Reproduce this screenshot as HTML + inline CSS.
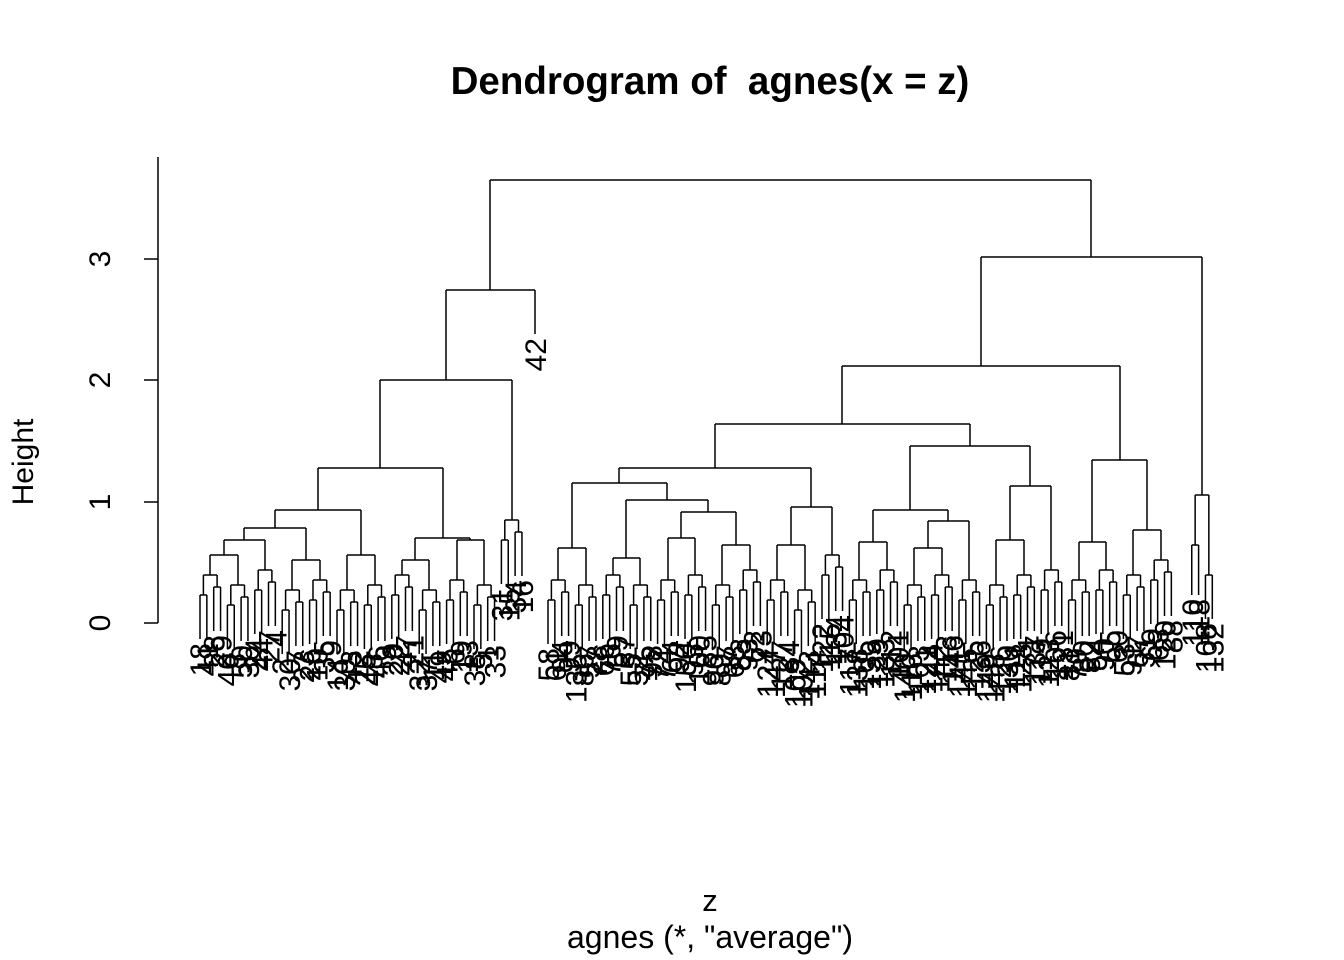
<!DOCTYPE html>
<html><head><meta charset="utf-8"><style>
html,body{margin:0;padding:0;background:#fff;}
svg{display:block;font-family:"Liberation Sans",sans-serif;}
path{stroke:#000;stroke-width:1.5;fill:none;}
.lb text{font-size:30px;text-anchor:end;transform:translateY(3px);}
</style></head><body>
<svg width="1344" height="960" xmlns="http://www.w3.org/2000/svg">
<text x="710" y="94" font-size="38.5" font-weight="bold" text-anchor="middle" xml:space="preserve" style="white-space:pre">Dendrogram of  agnes(x = z)</text>
<text x="710" y="911" font-size="31" text-anchor="middle">z</text>
<text x="710" y="948" font-size="32" text-anchor="middle">agnes (*, "average")</text>
<text transform="translate(33,462) rotate(-90)" font-size="30" text-anchor="middle">Height</text>
<path d="M158 157V623 M144 623H158 M144 502H158 M144 380H158 M144 259H158"/>
<g font-size="30" text-anchor="middle">
<text transform="translate(110,623) rotate(-90)">0</text>
<text transform="translate(110,502) rotate(-90)">1</text>
<text transform="translate(110,380) rotate(-90)">2</text>
<text transform="translate(110,259) rotate(-90)">3</text>
</g>
<path d="M210 555H238 M210 555V575 M238 555V585
M224 540H265 M224 540V555 M265 540V570
M292 560H320 M292 560V590 M320 560V580
M244 528H306 M244 528V540 M306 528V560
M347 555H375 M347 555V590 M375 555V585
M275 510H361 M275 510V528 M361 510V555
M402 560H429 M402 560V575 M429 560V590
M457 540H484 M457 540V580 M484 540V585
M415 538H470 M415 538V560 M470 538V540
M318 468H443 M318 468V510 M443 468V538
M380 380H512 M380 380V468 M512 380V520
M446 290H535 M446 290V380 M535 290V334
M558 548H586 M558 548V580 M586 548V585
M613 558H640 M613 558V575 M640 558V585
M668 538H695 M668 538V580 M695 538V575
M722 545H750 M722 545V585 M750 545V570
M681 512H736 M681 512V538 M736 512V545
M626 500H708 M626 500V558 M708 500V512
M572 483H667 M572 483V548 M667 483V500
M777 545H805 M777 545V580 M805 545V590
M791 507H832 M791 507V545 M832 507V555
M619 468H811 M619 468V483 M811 468V507
M859 542H887 M859 542V580 M887 542V570
M914 548H942 M914 548V585 M942 548V575
M928 521H969 M928 521V548 M969 521V580
M873 510H948 M873 510V542 M948 510V521
M996 540H1024 M996 540V585 M1024 540V575
M1010 486H1051 M1010 486V540 M1051 486V570
M910 446H1030 M910 446V510 M1030 446V486
M715 424H970 M715 424V468 M970 424V446
M1079 542H1106 M1079 542V580 M1106 542V570
M1133 530H1161 M1133 530V575 M1161 530V560
M1092 460H1147 M1092 460V542 M1147 460V530
M842 366H1120 M842 366V424 M1120 366V460
M981 257H1202 M981 257V366 M1202 257V495
M490 180H1091 M490 180V290 M1091 180V257"/>
<g class="lb" transform="translate(543,338) rotate(-90)"><text x="0" y="0">42</text></g>

<g transform="translate(200,575)"><path d="M3.4 0H17.1M3.4 0V20M0 20H6.85M0 20V64M6.85 20V64M17.1 0V12M13.7 12H20.55M13.7 12V56M20.55 12V56"/><g class="lb" transform="rotate(-90)"><text x="-68" y="8">18</text><text x="-68" y="14.9">41</text><text x="-60" y="21.7">28</text><text x="-60" y="28.6">29</text></g></g>
<g transform="translate(227.4,585)"><path d="M3.4 0H17.1M3.4 0V20M0 20H6.85M0 20V64M6.85 20V64M17.1 0V12M13.7 12H20.55M13.7 12V56M20.55 12V56"/><g class="lb" transform="rotate(-90)"><text x="-68" y="8">40</text><text x="-68" y="14.9">8</text><text x="-60" y="21.7">50</text><text x="-60" y="28.6">36</text></g></g>
<g transform="translate(254.8,570)"><path d="M3.4 0H17.1M3.4 0V20M0 20H6.85M0 20V64M6.85 20V64M17.1 0V12M13.7 12H20.55M13.7 12V56M20.55 12V56"/><g class="lb" transform="rotate(-90)"><text x="-68" y="8">24</text><text x="-68" y="14.9">44</text><text x="-60" y="21.7">27</text><text x="-60" y="28.6">4</text></g></g>
<g transform="translate(282.2,590)"><path d="M3.4 0H17.1M3.4 0V20M0 20H6.85M0 20V64M6.85 20V64M17.1 0V12M13.7 12H20.55M13.7 12V56M20.55 12V56"/><g class="lb" transform="rotate(-90)"><text x="-68" y="8">2</text><text x="-68" y="14.9">30</text><text x="-60" y="21.7">7</text><text x="-60" y="28.6">23</text></g></g>
<g transform="translate(309.6,580)"><path d="M3.4 0H17.1M3.4 0V20M0 20H6.85M0 20V64M6.85 20V64M17.1 0V12M13.7 12H20.55M13.7 12V56M20.55 12V56"/><g class="lb" transform="rotate(-90)"><text x="-68" y="8">26</text><text x="-68" y="14.9">10</text><text x="-60" y="21.7">35</text><text x="-60" y="28.6">9</text></g></g>
<g transform="translate(337,590)"><path d="M3.4 0H17.1M3.4 0V20M0 20H6.85M0 20V64M6.85 20V64M17.1 0V12M13.7 12H20.55M13.7 12V56M20.55 12V56"/><g class="lb" transform="rotate(-90)"><text x="-68" y="8">14</text><text x="-68" y="14.9">39</text><text x="-60" y="21.7">43</text><text x="-60" y="28.6">12</text></g></g>
<g transform="translate(364.4,585)"><path d="M3.4 0H17.1M3.4 0V20M0 20H6.85M0 20V64M6.85 20V64M17.1 0V12M13.7 12H20.55M13.7 12V56M20.55 12V56"/><g class="lb" transform="rotate(-90)"><text x="-68" y="8">25</text><text x="-68" y="14.9">48</text><text x="-60" y="21.7">46</text><text x="-60" y="28.6">3</text></g></g>
<g transform="translate(391.8,575)"><path d="M3.4 0H17.1M3.4 0V20M0 20H6.85M0 20V64M6.85 20V64M17.1 0V12M13.7 12H20.55M13.7 12V56M20.55 12V56"/><g class="lb" transform="rotate(-90)"><text x="-68" y="8">20</text><text x="-68" y="14.9">22</text><text x="-60" y="21.7">47</text><text x="-60" y="28.6">21</text></g></g>
<g transform="translate(419.2,590)"><path d="M3.4 0H17.1M3.4 0V20M0 20H6.85M0 20V64M6.85 20V64M17.1 0V12M13.7 12H20.55M13.7 12V56M20.55 12V56"/><g class="lb" transform="rotate(-90)"><text x="-68" y="8">32</text><text x="-68" y="14.9">37</text><text x="-60" y="21.7">11</text><text x="-60" y="28.6">49</text></g></g>
<g transform="translate(446.6,580)"><path d="M3.4 0H17.1M3.4 0V20M0 20H6.85M0 20V64M6.85 20V64M17.1 0V12M13.7 12H20.55M13.7 12V56M20.55 12V56"/><g class="lb" transform="rotate(-90)"><text x="-68" y="8">45</text><text x="-68" y="14.9">6</text><text x="-60" y="21.7">19</text><text x="-60" y="28.6">13</text></g></g>
<g transform="translate(474,585)"><path d="M3.4 0H17.1M3.4 0V20M0 20H6.85M0 20V64M6.85 20V64M17.1 0V12M13.7 12H20.55M13.7 12V56M20.55 12V56"/><g class="lb" transform="rotate(-90)"><text x="-68" y="8">38</text><text x="-68" y="14.9">5</text><text x="-60" y="21.7">1</text><text x="-60" y="28.6">33</text></g></g>
<g transform="translate(501.4,520)"><path d="M3.4 0H17.1M3.4 0V20M0 20H6.85M0 20V64M6.85 20V64M17.1 0V12M13.7 12H20.55M13.7 12V56M20.55 12V56"/><g class="lb" transform="rotate(-90)"><text x="-68" y="8">31</text><text x="-68" y="14.9">15</text><text x="-60" y="21.7">34</text><text x="-60" y="28.6">16</text></g></g>

<g transform="translate(548,580)"><path d="M3.4 0H17.1M3.4 0V20M0 20H6.85M0 20V64M6.85 20V64M17.1 0V12M13.7 12H20.55M13.7 12V56M20.55 12V56"/><g class="lb" transform="rotate(-90)"><text x="-68" y="8">58</text><text x="-68" y="14.9">61</text><text x="-60" y="21.7">94</text><text x="-60" y="28.6">99</text></g></g>
<g transform="translate(575.4,585)"><path d="M3.4 0H17.1M3.4 0V20M0 20H6.85M0 20V64M6.85 20V64M17.1 0V12M13.7 12H20.55M13.7 12V56M20.55 12V56"/><g class="lb" transform="rotate(-90)"><text x="-68" y="8">135</text><text x="-68" y="14.9">86</text><text x="-60" y="21.7">57</text><text x="-60" y="28.6">78</text></g></g>
<g transform="translate(602.8,575)"><path d="M3.4 0H17.1M3.4 0V20M0 20H6.85M0 20V64M6.85 20V64M17.1 0V12M13.7 12H20.55M13.7 12V56M20.55 12V56"/><g class="lb" transform="rotate(-90)"><text x="-68" y="8">66</text><text x="-68" y="14.9">76</text><text x="-60" y="21.7">59</text><text x="-60" y="28.6">87</text></g></g>
<g transform="translate(630.2,585)"><path d="M3.4 0H17.1M3.4 0V20M0 20H6.85M0 20V64M6.85 20V64M17.1 0V12M13.7 12H20.55M13.7 12V56M20.55 12V56"/><g class="lb" transform="rotate(-90)"><text x="-68" y="8">55</text><text x="-68" y="14.9">52</text><text x="-60" y="21.7">75</text><text x="-60" y="28.6">98</text></g></g>
<g transform="translate(657.6,580)"><path d="M3.4 0H17.1M3.4 0V20M0 20H6.85M0 20V64M6.85 20V64M17.1 0V12M13.7 12H20.55M13.7 12V56M20.55 12V56"/><g class="lb" transform="rotate(-90)"><text x="-68" y="8">72</text><text x="-68" y="14.9">74</text><text x="-60" y="21.7">64</text><text x="-60" y="28.6">92</text></g></g>
<g transform="translate(685,575)"><path d="M3.4 0H17.1M3.4 0V20M0 20H6.85M0 20V64M6.85 20V64M17.1 0V12M13.7 12H20.55M13.7 12V56M20.55 12V56"/><g class="lb" transform="rotate(-90)"><text x="-68" y="8">150</text><text x="-68" y="14.9">95</text><text x="-60" y="21.7">100</text><text x="-60" y="28.6">85</text></g></g>
<g transform="translate(712.4,585)"><path d="M3.4 0H17.1M3.4 0V20M0 20H6.85M0 20V64M6.85 20V64M17.1 0V12M13.7 12H20.55M13.7 12V56M20.55 12V56"/><g class="lb" transform="rotate(-90)"><text x="-68" y="8">96</text><text x="-68" y="14.9">89</text><text x="-60" y="21.7">97</text><text x="-60" y="28.6">68</text></g></g>
<g transform="translate(739.8,570)"><path d="M3.4 0H17.1M3.4 0V20M0 20H6.85M0 20V64M6.85 20V64M17.1 0V12M13.7 12H20.55M13.7 12V56M20.55 12V56"/><g class="lb" transform="rotate(-90)"><text x="-68" y="8">83</text><text x="-68" y="14.9">93</text><text x="-60" y="21.7">62</text><text x="-60" y="28.6">73</text></g></g>
<g transform="translate(767.2,580)"><path d="M3.4 0H17.1M3.4 0V20M0 20H6.85M0 20V64M6.85 20V64M17.1 0V12M13.7 12H20.55M13.7 12V56M20.55 12V56"/><g class="lb" transform="rotate(-90)"><text x="-68" y="8">124</text><text x="-68" y="14.9">147</text><text x="-60" y="21.7">127</text><text x="-60" y="28.6">84</text></g></g>
<g transform="translate(794.6,590)"><path d="M3.4 0H17.1M3.4 0V20M0 20H6.85M0 20V64M6.85 20V64M17.1 0V12M13.7 12H20.55M13.7 12V56M20.55 12V56"/><g class="lb" transform="rotate(-90)"><text x="-68" y="8">109</text><text x="-68" y="14.9">102</text><text x="-60" y="21.7">143</text><text x="-60" y="28.6">114</text></g></g>
<g transform="translate(822,555)"><path d="M3.4 0H17.1M3.4 0V20M0 20H6.85M0 20V64M6.85 20V64M17.1 0V12M13.7 12H20.55M13.7 12V56M20.55 12V56"/><g class="lb" transform="rotate(-90)"><text x="-68" y="8">122</text><text x="-68" y="14.9">115</text><text x="-60" y="21.7">134</text><text x="-60" y="28.6">104</text></g></g>
<g transform="translate(849.4,580)"><path d="M3.4 0H17.1M3.4 0V20M0 20H6.85M0 20V64M6.85 20V64M17.1 0V12M13.7 12H20.55M13.7 12V56M20.55 12V56"/><g class="lb" transform="rotate(-90)"><text x="-68" y="8">117</text><text x="-68" y="14.9">138</text><text x="-60" y="21.7">105</text><text x="-60" y="28.6">139</text></g></g>
<g transform="translate(876.8,570)"><path d="M3.4 0H17.1M3.4 0V20M0 20H6.85M0 20V64M6.85 20V64M17.1 0V12M13.7 12H20.55M13.7 12V56M20.55 12V56"/><g class="lb" transform="rotate(-90)"><text x="-68" y="8">129</text><text x="-68" y="14.9">133</text><text x="-60" y="21.7">112</text><text x="-60" y="28.6">101</text></g></g>
<g transform="translate(904.2,585)"><path d="M3.4 0H17.1M3.4 0V20M0 20H6.85M0 20V64M6.85 20V64M17.1 0V12M13.7 12H20.55M13.7 12V56M20.55 12V56"/><g class="lb" transform="rotate(-90)"><text x="-68" y="8">140</text><text x="-68" y="14.9">116</text><text x="-60" y="21.7">103</text><text x="-60" y="28.6">121</text></g></g>
<g transform="translate(931.6,575)"><path d="M3.4 0H17.1M3.4 0V20M0 20H6.85M0 20V64M6.85 20V64M17.1 0V12M13.7 12H20.55M13.7 12V56M20.55 12V56"/><g class="lb" transform="rotate(-90)"><text x="-68" y="8">144</text><text x="-68" y="14.9">142</text><text x="-60" y="21.7">113</text><text x="-60" y="28.6">146</text></g></g>
<g transform="translate(959,580)"><path d="M3.4 0H17.1M3.4 0V20M0 20H6.85M0 20V64M6.85 20V64M17.1 0V12M13.7 12H20.55M13.7 12V56M20.55 12V56"/><g class="lb" transform="rotate(-90)"><text x="-68" y="8">141</text><text x="-68" y="14.9">145</text><text x="-60" y="21.7">125</text><text x="-60" y="28.6">136</text></g></g>
<g transform="translate(986.4,585)"><path d="M3.4 0H17.1M3.4 0V20M0 20H6.85M0 20V64M6.85 20V64M17.1 0V12M13.7 12H20.55M13.7 12V56M20.55 12V56"/><g class="lb" transform="rotate(-90)"><text x="-68" y="8">149</text><text x="-68" y="14.9">148</text><text x="-60" y="21.7">126</text><text x="-60" y="28.6">130</text></g></g>
<g transform="translate(1013.8,575)"><path d="M3.4 0H17.1M3.4 0V20M0 20H6.85M0 20V64M6.85 20V64M17.1 0V12M13.7 12H20.55M13.7 12V56M20.55 12V56"/><g class="lb" transform="rotate(-90)"><text x="-68" y="8">111</text><text x="-68" y="14.9">128</text><text x="-60" y="21.7">71</text><text x="-60" y="28.6">137</text></g></g>
<g transform="translate(1041.2,570)"><path d="M3.4 0H17.1M3.4 0V20M0 20H6.85M0 20V64M6.85 20V64M17.1 0V12M13.7 12H20.55M13.7 12V56M20.55 12V56"/><g class="lb" transform="rotate(-90)"><text x="-68" y="8">119</text><text x="-68" y="14.9">123</text><text x="-60" y="21.7">106</text><text x="-60" y="28.6">131</text></g></g>
<g transform="translate(1068.6,580)"><path d="M3.4 0H17.1M3.4 0V20M0 20H6.85M0 20V64M6.85 20V64M17.1 0V12M13.7 12H20.55M13.7 12V56M20.55 12V56"/><g class="lb" transform="rotate(-90)"><text x="-68" y="8">81</text><text x="-68" y="14.9">70</text><text x="-60" y="21.7">80</text><text x="-60" y="28.6">82</text></g></g>
<g transform="translate(1096,570)"><path d="M3.4 0H17.1M3.4 0V20M0 20H6.85M0 20V64M6.85 20V64M17.1 0V12M13.7 12H20.55M13.7 12V56M20.55 12V56"/><g class="lb" transform="rotate(-90)"><text x="-68" y="8">54</text><text x="-68" y="14.9">90</text><text x="-60" y="21.7">65</text><text x="-60" y="28.6">60</text></g></g>
<g transform="translate(1123.4,575)"><path d="M3.4 0H17.1M3.4 0V20M0 20H6.85M0 20V64M6.85 20V64M17.1 0V12M13.7 12H20.55M13.7 12V56M20.55 12V56"/><g class="lb" transform="rotate(-90)"><text x="-68" y="8">53</text><text x="-68" y="14.9">91</text><text x="-60" y="21.7">67</text><text x="-60" y="28.6">51</text></g></g>
<g transform="translate(1150.8,560)"><path d="M3.4 0H17.1M3.4 0V20M0 20H6.85M0 20V64M6.85 20V64M17.1 0V12M13.7 12H20.55M13.7 12V56M20.55 12V56"/><g class="lb" transform="rotate(-90)"><text x="-68" y="8">69</text><text x="-68" y="14.9">63</text><text x="-60" y="21.7">120</text><text x="-60" y="28.6">88</text></g></g>
<g transform="translate(1191.75,495)"><path d="M3.4 0H17.1M3.4 0V50M0 50H6.85M0 50V100M6.85 50V100M17.1 0V80M13.7 80H20.55M13.7 80V124M20.55 80V124"/><g class="lb" transform="rotate(-90)"><text x="-104" y="8">110</text><text x="-104" y="14.9">118</text><text x="-128" y="21.7">108</text><text x="-128" y="28.6">132</text></g></g>
</svg>
</body></html>
